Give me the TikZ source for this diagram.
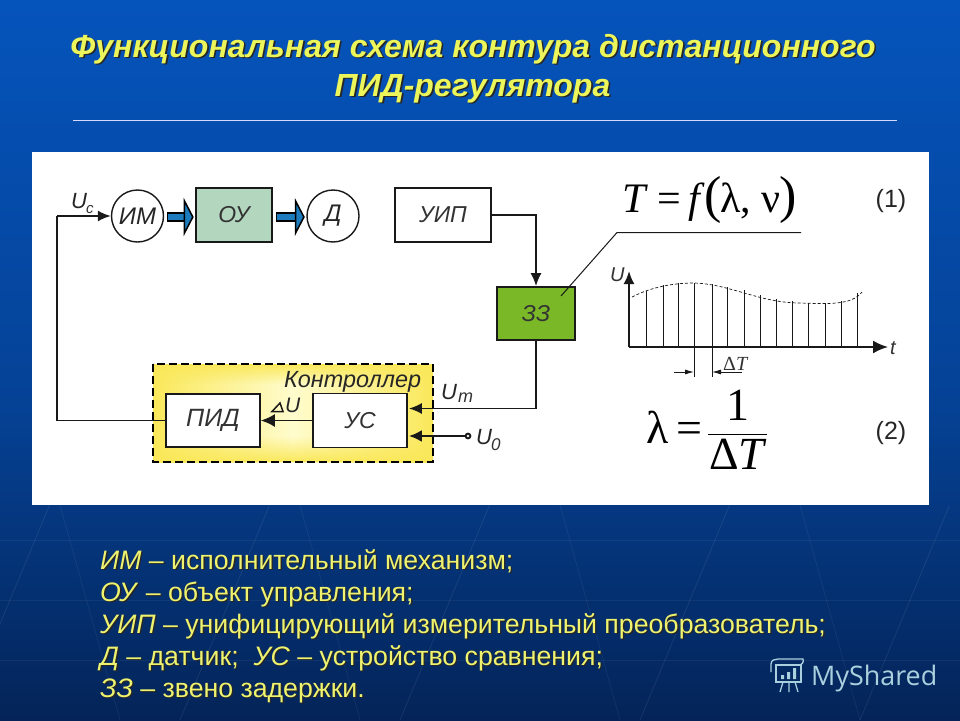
\documentclass[tikz,border=0pt]{standalone}
\usepackage{fontspec}
\setmainfont{Liberation Sans}
\newfontfamily\formfont{Liberation Serif}
\newfontfamily\wmfont{Open Sans}
\usetikzlibrary{arrows.meta,calc,fadings}
\definecolor{bgtop}{RGB}{5,84,188}
\definecolor{bgmid}{RGB}{5,66,150}
\definecolor{bgbot}{RGB}{4,36,88}
\definecolor{ytext}{RGB}{238,242,110}
\definecolor{ttext}{RGB}{236,246,90}
\definecolor{ougreen}{RGB}{178,214,190}
\definecolor{zzgreen}{RGB}{122,184,40}
\definecolor{blockblue}{RGB}{28,124,190}
\definecolor{inkc}{RGB}{25,25,25}
\definecolor{ctrlyellow}{RGB}{250,232,90}
\definecolor{ctrlpale}{RGB}{255,252,205}
\definecolor{wmc}{RGB}{170,208,222}
\tikzset{
 px/.style={x=1pt,y=-1pt},
 boxn/.style={draw=inkc,line width=1.6pt,fill=white,inner sep=0pt,anchor=center,font=\fontsize{23}{23}\selectfont\itshape,text=black!80},
 circn/.style={draw=inkc,line width=1.4pt,fill=white,circle,inner sep=0pt,minimum size=52pt,font=\fontsize{24}{24}\selectfont\itshape,text=black!85},
 wire/.style={draw=inkc,line width=1.9pt},
 sig/.style={wire,-{Latex[length=13pt,width=11pt]}},
 blockback/.style={draw=black,line width=10pt,shorten <=3pt,shorten >=7pt},
 blockfront/.style={draw=blockblue,line width=6pt,shorten <=4pt,shorten >=1.5pt,-{Triangle[length=10pt,width=38pt,color=black,fill=blockblue,line width=1.5pt]}},
 lab/.style={font=\fontsize{22}{22}\selectfont\itshape,text=black!85,inner sep=0pt},
 sublab/.style={font=\fontsize{15}{15}\selectfont\itshape,text=black!80,inner sep=0pt},
 eqnum/.style={font=\fontsize{25}{25}\selectfont,text=black!85,inner sep=0pt},
 formula/.style={font=\formfont\fontsize{42}{42}\selectfont,text=black,inner sep=0pt},
 formulb/.style={font=\formfont\fontsize{46}{46}\selectfont,text=black,inner sep=0pt},
 titletext/.style={font=\fontsize{32}{32}\selectfont\bfseries\itshape,inner sep=0pt,anchor=base},
 legend/.style={font=\fontsize{26.7}{26.7}\selectfont,inner sep=0pt,anchor=base west},
}
% text with a drop shadow, set inside one node
\newcommand{\shadowed}[3]{\rlap{\kern#1\raisebox{-#1}{\textcolor{black!85}{#3}}}\textcolor{#2}{#3}}
\begin{document}
\begin{tikzpicture}[px]
\useasboundingbox (0,0) rectangle (960,720);
% background
\shade[top color=bgtop,bottom color=bgmid] (0,0) rectangle (960,400);
\shade[top color=bgmid,bottom color=bgbot] (0,400) rectangle (960,720);
\begin{scope}
\clip (0,505) rectangle (960,720);
\foreach \a in {-240,-40,180,400,640,860,1080}{
 \draw[white,opacity=.08,line width=.8pt] (\a,720) -- (\a+300,0);}
\foreach \a in {60,300,560,800}{
 \draw[white,opacity=.06,line width=.8pt] (\a,505) -- (\a+60,720);}
\foreach \b in {540,600,660}{
 \draw[white,opacity=.05,line width=.8pt] (0,\b) -- (960,\b);}
\end{scope}
% title
\node[titletext] (t1) at (473,57) {\shadowed{1.6pt}{ttext}{Функциональная схема контура дистанционного}};
\node[titletext] (t2) at (472.5,96) {\shadowed{1.6pt}{ttext}{ПИД-регулятора}};
\draw[white!85!blue,line width=.8pt] (73,120.5) -- (897,120.5);
% panel
\fill[white] (32,152) rectangle (929,505);
% controller
\path[left color=ctrlyellow,right color=ctrlyellow,middle color=ctrlpale] (153,364) rectangle (433,462);
\fill[ctrlyellow,path fading=north] (153,436) rectangle (433,462);
\fill[ctrlyellow,path fading=south] (153,364) rectangle (433,384);
\draw[black,line width=1.6pt,dash pattern=on 8pt off 4pt] (153,364) rectangle (433,462);
% nodes
\node[circn] (im) at (137.5,216) {ИМ};
\node[boxn,fill=ougreen,minimum width=76pt,minimum height=54pt] (ou) at (234,215) {ОУ};
\node[circn] (d) at (333,216) {Д};
\node[boxn,minimum width=96pt,minimum height=54pt] (uip) at (443,215) {УИП};
\node[boxn,fill=zzgreen,minimum width=78pt,minimum height=53pt] (zz) at (536,313.5) {ЗЗ};
\node[boxn,font=\fontsize{25}{25}\selectfont\itshape,minimum width=94pt,minimum height=53pt] (pid) at (213,420.5) {ПИД};
\node[boxn,minimum width=94pt,minimum height=54pt] (us) at (360,420.5) {УС};
\coordinate (u0c) at (468,436);
% connectors
\draw[blockback] ($(im.east)+(0,1)$) -- ($(im.east-|ou.west)+(0,1)$);
\draw[blockfront] ($(im.east)+(0,1)$) -- ($(im.east-|ou.west)+(0,1)$);
\draw[blockback] ($(d.west-|ou.east)+(0,1)$) -- ($(d.west)+(0,1)$);
\draw[blockfront] ($(d.west-|ou.east)+(0,1)$) -- ($(d.west)+(0,1)$);
\draw[sig] (uip.east) -| (zz.north);
\draw[sig] (zz.south) |- ($(us.east)+(1,-12)$);
\draw[wire,-{Latex[length=13pt,width=12pt]},line width=2.8pt] (u0c) -- ($(us.east)+(1,15.5)$);
\fill[inkc] (u0c) circle (3.4pt);
\fill[white] (u0c) circle (1.4pt);
\draw[sig,-{Latex[length=14pt,width=13pt]}] (us) -- (pid);
\draw[wire] (pid.west) -- (57,420.5) -- (57,216);
\coordinate (fb) at (57,216);
\draw[sig] (fb) -- (im.west);
% labels
\node[lab,anchor=base west] at (71,208) {U};
\node[sublab,anchor=base west] at (86,213) {c};
\node[lab,font=\fontsize{23.4}{23.4}\selectfont\itshape,anchor=base west] at (284,387) {Контроллер};
\node[lab,anchor=base west] at (441,399) {U};
\node[sublab,font=\fontsize{18}{18}\selectfont\itshape,anchor=base west] at (458,402) {m};
\node[lab,anchor=base west] at (476,444) {U};
\node[sublab,font=\fontsize{17}{17}\selectfont\itshape,anchor=base west] at (491,450) {0};
\node[lab,font=\fontsize{21}{21}\selectfont\itshape,anchor=base west] at (285,412) {U};
\draw[inkc,line width=1.5pt,line join=miter] (272,411.5) -- (283,411.5) -- (280,403) -- cycle;
% leader
\coordinate (ld) at (617,232.5);
\coordinate (le) at (801,232.5);
\coordinate (ls) at (561,296);
\draw[inkc,line width=1pt] (ls) -- (ld) -- (le);
% formula 1
\node[formula,anchor=base west] at (622,212) {\textit{T}\kern-1pt{} = \kern-3pt\textit{f}{\fontsize{52}{52}\selectfont\kern-1pt(}\kern-1ptλ, ν\kern-1pt{\fontsize{52}{52}\selectfont)}};
\node[eqnum,anchor=base] at (891,207) {(1)};
\node[eqnum,anchor=base] at (891,439) {(2)};
% chart
\coordinate (org) at (629,347);
\coordinate (tip) at (888,347);
\coordinate (top) at (629,271);
\draw[inkc,line width=2pt,-{Latex[length=15pt,width=13pt]}] (org) -- (tip);
\draw[inkc,line width=2pt,-{Latex[length=13pt,width=11pt]}] (org) -- (top);
\node[sublab,font=\fontsize{20}{20}\selectfont\itshape,anchor=base west] at (610,281) {U};
\node[sublab,font=\fontsize{20}{20}\selectfont\itshape,anchor=base west] at (890,354) {t};
\draw[inkc,line width=.7pt,dash pattern=on 3pt off 2pt] (632,297) .. controls (655,285) and (680,283) .. (694,283) .. controls (730,284) and (760,303) .. (800,303) .. controls (830,304) and (852,305) .. (862,292);
\foreach \x/\y in {646/291,663/285,678/283,694/283,712/284,727/287,744/290,760/295,776/299,792/301,808/303,825/303,841/301,857/293}{
 \draw[inkc,line width=.9pt] (\x,347) -- (\x,\y);}
\draw[inkc,line width=.9pt] (694,347) -- (694,377);
\draw[inkc,line width=.9pt] (712,347) -- (712,377);
\draw[inkc,line width=.9pt,-{Latex[length=9pt,width=5pt]}] (674,372) -- (694,372);
\draw[inkc,line width=.9pt,-{Latex[length=9pt,width=5pt]}] (742,372) -- (712,372);
\node[sublab,font=\formfont\fontsize{20}{20}\selectfont,anchor=base west] at (723,370) {Δ\textit{T}};
% formula 2
\node[formulb,anchor=base west] at (646,443) {λ\kern-4pt{} =};
\node[formulb,anchor=base] at (738,420) {1};
\draw[black,line width=1.2pt] (708,434.5) -- (767,434.5);
\node[formulb,anchor=base] at (738,469) {Δ\textit{T}};
% legend
\node[legend] at (100,569) {\shadowed{1.3pt}{ytext}{\textit{ИМ} – исполнительный механизм;}};
\node[legend] at (100,601) {\shadowed{1.3pt}{ytext}{\textit{ОУ} – объект управления;}};
\node[legend] at (100,633) {\shadowed{1.3pt}{ytext}{\textit{УИП} – унифицирующий измерительный преобразователь;}};
\node[legend] at (100,665) {\shadowed{1.3pt}{ytext}{\textit{Д} – датчик;\ \ \textit{УС} – устройство сравнения;}};
\node[legend] at (100,697) {\shadowed{1.3pt}{ytext}{\textit{ЗЗ} – звено задержки.}};
% watermark
\node[font=\wmfont\fontsize{26.9}{26.9}\selectfont,text=wmc,inner sep=0pt,anchor=base west] at (811,685) {MyShared};
\begin{scope}[wmc,line width=1.3pt]
\draw (771,664) -- (771,672) (771,664) .. controls (771,660) and (775,659) .. (778,659) -- (803,659) .. controls (804,662) and (802,665) .. (799,665) -- (775,665);
\draw (776,665) rectangle (801,682);
\draw (783,682) -- (780,692) (789,682) -- (789,692) (795,682) -- (798,692);
\fill (781,675) rectangle (784,679) (787,672) rectangle (790,679) (793,668) rectangle (796,679);
\end{scope}
\end{tikzpicture}
\end{document}
